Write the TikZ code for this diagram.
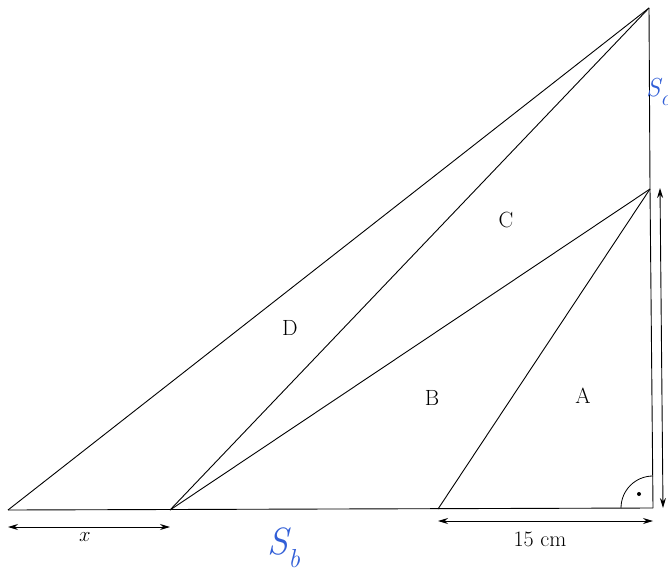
\documentclass[tikz,border=0pt]{standalone}
\usetikzlibrary{arrows.meta}
\definecolor{handblue}{RGB}{50,95,215}
\newcommand{\handsub}[3]{\textit{#1}\kern-0.08em\raisebox{-0.35em}{\fontsize{#3}{#3}\selectfont\textit{#2}}}
\tikzset{
  edge/.style={line width=0.9pt, black},
  dim/.style={line width=0.9pt, {Stealth[length=10pt,width=6pt]}-{Stealth[length=10pt,width=6pt]}},
  lbl/.style={font=\fontsize{22}{26}\selectfont},
  hand/.style={text=handblue, font=\fontsize{38}{40}\selectfont}
}
\begin{document}
\begin{tikzpicture}[x=1pt,y=-1pt]
\useasboundingbox (0,0) rectangle (668,578);
\clip (0,0) rectangle (668,578);
\coordinate (L) at (8,510);
\coordinate (P1) at (170,510);
\coordinate (P2) at (438,509);
\coordinate (R) at (653,508);
\coordinate (T) at (649,8);
\coordinate (M) at (650,189);
% triangle edges
\draw[edge] (L) -- (R);
\draw[edge] (T) -- (M) -- (R);
\draw[edge] (L) -- (T);
\draw[edge] (P1) -- (T);
\draw[edge] (P1) -- (M);
\draw[edge] (P2) -- (M);
% right angle
\draw[edge, line width=0.8pt] (621,508) arc[start angle=180, end angle=270, radius=32];
\fill (639,494) circle (2);
% dimension arrows
\coordinate (xa) at (8,527);
\coordinate (xb) at (170,527);
\draw[dim] (xa) -- (xb);
\coordinate (ca) at (438,521);
\coordinate (cb) at (653,521);
\draw[dim] (ca) -- (cb);
\coordinate (va) at (660,188);
\coordinate (vb) at (663,508);
\draw[dim] (va) -- (vb);
% labels
\node[lbl] (lx) at (85,537) {$x$};
\node[lbl] (l15) at (540,539) {15 cm};
\node[lbl] (lD) at (290,328) {D};
\node[lbl] (lC) at (506,220) {C};
\node[lbl] (lB) at (432,398) {B};
\node[lbl] (lA) at (583,396) {A};
\node[hand] (Sb) at (284,548) {\handsub{S}{b}{26}};
\node[hand, anchor=west, inner sep=0pt, font=\fontsize{26}{28}\selectfont] (Sc) at (646,92) {\handsub{S}{c}{22}};
\end{tikzpicture}
\end{document}
